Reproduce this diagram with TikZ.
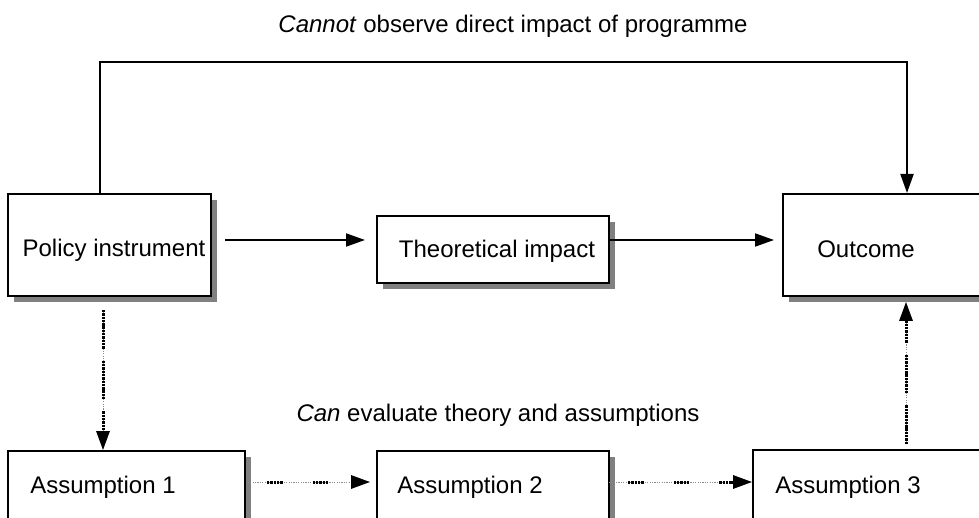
\documentclass[tikz,border=0pt]{standalone}
\usepackage{fontspec}
\setmainfont{Liberation Sans}
\usetikzlibrary{arrows.meta,shadows}
\begin{document}
\begin{tikzpicture}[x=1pt,y=-1pt,
  box/.style={draw=black, line width=2pt, fill=white, rectangle, inner sep=0pt,
    drop shadow={shadow xshift=6pt, shadow yshift=-6pt, fill=black!50, opacity=1}},
  lbl/.style={inner sep=0pt, anchor=base, font=\fontsize{24}{29}\selectfont},
  arr/.style={line width=1.8pt, -{Triangle[length=19pt,width=13pt]}},
  dotbase/.style={arr, line width=3pt,
    preaction={draw, black!45, line width=1pt, dash pattern=on 1.2pt off 1.2pt}},
  % short runs of square dots, long gaps (horizontal links)
  dothoriz/.style={dotbase,
    dash pattern=on 2.4pt off 0.9pt on 2.4pt off 0.9pt on 2.4pt off 0.9pt on 2.4pt off 0.9pt on 2.4pt off 30pt},
  % long runs of square dots, short gaps (vertical links)
  dotvert/.style={dotbase,
    dash pattern=on 2.4pt off 0.9pt on 2.4pt off 0.9pt on 2.4pt off 0.9pt on 2.4pt off 0.9pt on 2.4pt off 0.9pt on 2.4pt off 0.9pt on 2.4pt off 0.9pt on 2.4pt off 0.9pt on 2.4pt off 0.9pt on 2.4pt off 0.9pt on 2.4pt off 0.9pt on 2.4pt off 12pt}]
\path[use as bounding box, clip] (0,0) rectangle (979,518);

% boxes
\node[box, minimum width=203pt, minimum height=102pt] (pi) at (109.5,245) {};
\node[box, minimum width=232pt, minimum height=67pt]  (ti) at (493,249.5) {};
\node[box, minimum width=227pt, minimum height=102pt] (oc) at (896.5,245) {};
\node[box, minimum width=237pt, minimum height=89pt]  (a1) at (126.5,495.5) {};
\node[box, minimum width=232pt, minimum height=89pt]  (a2) at (493,495.5) {};
\node[box, minimum width=257pt, minimum height=90pt]  (a3) at (881.5,495) {};

% box texts
\node[lbl] (pit) at (114,257) {Policy instrument};
\node[lbl] (tit) at (497,258) {Theoretical impact};
\node[lbl] (oct) at (866,258) {Outcome};
\node[lbl] (a1t) at (103,493) {Assumption 1};
\node[lbl] (a2t) at (470,493) {Assumption 2};
\node[lbl] (a3t) at (848,493) {Assumption 3};

% captions
\node[lbl] (cannot) at (513,33) {\textit{Cannot} observe direct impact of programme};
\node[lbl] (can) at (498,421) {\textit{Can} evaluate theory and assumptions};

% upper row
\coordinate (row) at (0,240);
\draw[arr, shorten <=13pt, shorten >=11pt] (pi.east |- row) -- (ti.west |- row);
\draw[arr, shorten <=-2pt, shorten >=8pt] (ti.east |- row) -- (oc.west |- row);

% bypass over the top
\coordinate (tl) at (100,62);
\coordinate (tr) at (907,62);
\draw[arr, line width=2pt] (pi.north -| tl) -- (tl) -- (tr) -- (oc.north -| tr);

% dotted links through the assumptions
\coordinate (d1) at (103,310);
\draw[dotvert] (d1) -- (d1 |- a1.north);
\coordinate (lower) at (0,482);
\draw[dothoriz, dash phase=-20pt, shorten <=1pt, shorten >=6pt] (a1.east |- lower) -- (a2.west |- lower);
\draw[dothoriz, dash phase=-20pt, shorten <=-2pt] (a2.east |- lower) -- (a3.west |- lower);
\coordinate (d3) at (906,444);
\draw[dotvert, shorten >=5pt] (d3) -- (d3 |- oc.south);
\end{tikzpicture}
\end{document}
